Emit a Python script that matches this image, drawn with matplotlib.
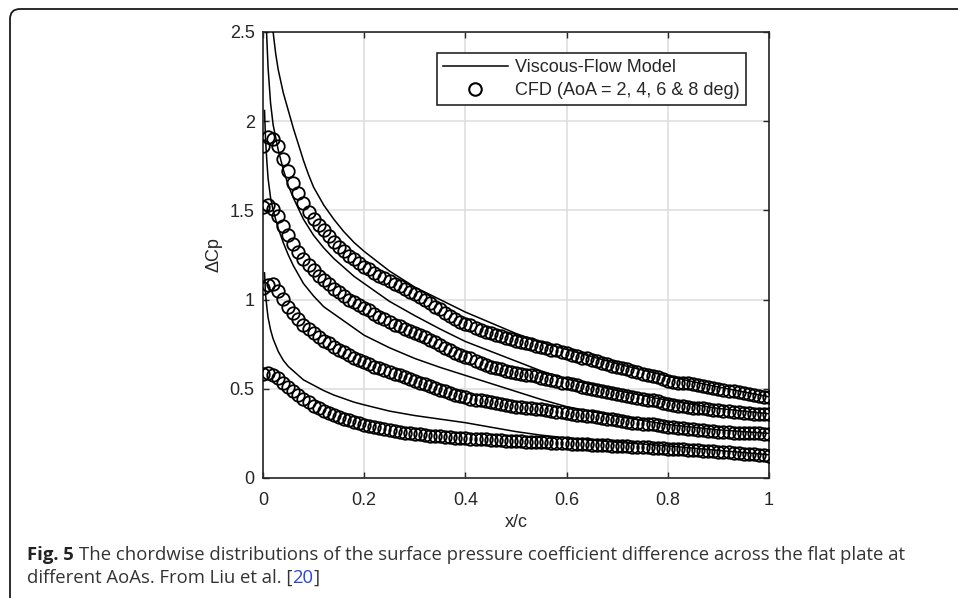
import numpy as np
import matplotlib
matplotlib.use("Agg")
import matplotlib.pyplot as plt
from matplotlib.patches import FancyBboxPatch
from matplotlib.transforms import IdentityTransform
from matplotlib.lines import Line2D

# CFD samples (x/c = 0, 0.01, ..., 1)
cfd_x = np.linspace(0, 1, 101)

cfd_aoa8 = [1.86, 1.91, 1.90, 1.86, 1.79, 1.72, 1.655, 1.595, 1.54, 1.49,
            1.45, 1.42, 1.39, 1.355, 1.325, 1.295, 1.27, 1.245, 1.225, 1.205,
            1.185, 1.17, 1.15, 1.135, 1.12, 1.105, 1.09, 1.075, 1.06, 1.045,
            1.03, 1.015, 0.995, 0.98, 0.96, 0.945, 0.925, 0.91, 0.89, 0.875,
            0.865, 0.855, 0.84, 0.83, 0.82, 0.81, 0.80, 0.795, 0.785, 0.78,
            0.77, 0.765, 0.755, 0.75, 0.74, 0.735, 0.73, 0.72, 0.715, 0.705,
            0.70, 0.69, 0.685, 0.675, 0.67, 0.66, 0.655, 0.645, 0.64, 0.63,
            0.625, 0.615, 0.61, 0.60, 0.595, 0.585, 0.58, 0.57, 0.565, 0.555,
            0.545, 0.54, 0.535, 0.535, 0.53, 0.525, 0.52, 0.515, 0.51, 0.505,
            0.50, 0.495, 0.49, 0.485, 0.48, 0.475, 0.47, 0.465, 0.46, 0.455,
            0.455]

cfd_aoa6 = [1.52, 1.53, 1.51, 1.47, 1.41, 1.36, 1.31, 1.265, 1.23, 1.195,
            1.165, 1.135, 1.11, 1.085, 1.06, 1.04, 1.02, 1.00, 0.985, 0.97,
            0.955, 0.94, 0.92, 0.905, 0.89, 0.875, 0.86, 0.85, 0.835, 0.825,
            0.81, 0.80, 0.79, 0.775, 0.76, 0.745, 0.73, 0.715, 0.70, 0.69,
            0.68, 0.67, 0.655, 0.645, 0.635, 0.625, 0.615, 0.61, 0.60, 0.595,
            0.59, 0.585, 0.58, 0.575, 0.57, 0.56, 0.555, 0.55, 0.545, 0.535,
            0.53, 0.525, 0.52, 0.51, 0.505, 0.50, 0.495, 0.49, 0.48, 0.475,
            0.47, 0.465, 0.46, 0.455, 0.45, 0.445, 0.44, 0.435, 0.43, 0.42,
            0.415, 0.41, 0.405, 0.405, 0.40, 0.395, 0.39, 0.39, 0.385, 0.38,
            0.38, 0.375, 0.375, 0.37, 0.37, 0.365, 0.365, 0.36, 0.36, 0.36,
            0.358]

cfd_aoa4 = [1.065, 1.08, 1.085, 1.05, 1.005, 0.96, 0.925, 0.89, 0.86, 0.835,
            0.81, 0.79, 0.77, 0.755, 0.735, 0.72, 0.705, 0.69, 0.675, 0.66,
            0.65, 0.64, 0.625, 0.615, 0.605, 0.595, 0.585, 0.575, 0.565, 0.555,
            0.545, 0.535, 0.525, 0.515, 0.505, 0.495, 0.485, 0.475, 0.465, 0.46,
            0.455, 0.445, 0.44, 0.435, 0.43, 0.425, 0.42, 0.415, 0.41, 0.405,
            0.40, 0.40, 0.395, 0.39, 0.385, 0.385, 0.38, 0.375, 0.37, 0.37,
            0.365, 0.36, 0.355, 0.355, 0.35, 0.345, 0.34, 0.335, 0.33, 0.33,
            0.325, 0.32, 0.315, 0.31, 0.31, 0.305, 0.30, 0.30, 0.295, 0.29,
            0.285, 0.285, 0.28, 0.28, 0.275, 0.275, 0.27, 0.27, 0.265, 0.265,
            0.26, 0.26, 0.26, 0.255, 0.255, 0.255, 0.25, 0.25, 0.25, 0.248,
            0.246]

cfd_aoa2 = [0.585, 0.59, 0.58, 0.56, 0.535, 0.51, 0.485, 0.465, 0.445, 0.425,
            0.405, 0.39, 0.377, 0.365, 0.353, 0.342, 0.332, 0.323, 0.314, 0.306,
            0.298, 0.292, 0.285, 0.279, 0.274, 0.269, 0.264, 0.259, 0.255, 0.251,
            0.247, 0.244, 0.241, 0.238, 0.235, 0.233, 0.231, 0.229, 0.227, 0.225,
            0.223, 0.221, 0.219, 0.218, 0.216, 0.214, 0.213, 0.211, 0.21, 0.208,
            0.207, 0.205, 0.204, 0.203, 0.201, 0.20, 0.199, 0.198, 0.197, 0.196,
            0.195, 0.193, 0.192, 0.19, 0.189, 0.187, 0.186, 0.184, 0.183, 0.181,
            0.18, 0.178, 0.177, 0.175, 0.174, 0.172, 0.171, 0.169, 0.168, 0.166,
            0.165, 0.163, 0.162, 0.16, 0.158, 0.157, 0.155, 0.153, 0.151, 0.149,
            0.147, 0.145, 0.143, 0.141, 0.139, 0.137, 0.135, 0.133, 0.13, 0.128,
            0.125]

# viscous-flow model curves
model8_x = [0.018, 0.02, 0.025, 0.03, 0.04, 0.05, 0.06, 0.07, 0.08, 0.09, 0.10,
            0.12, 0.14, 0.16, 0.18, 0.20, 0.25, 0.30, 0.35, 0.40, 0.45, 0.50,
            0.55, 0.60, 0.70, 0.80, 0.90, 1.00]
model8_y = [2.62, 2.50, 2.38, 2.29, 2.16, 2.06, 1.96, 1.87, 1.78, 1.70, 1.63,
            1.53, 1.45, 1.38, 1.32, 1.27, 1.16, 1.07, 1.00, 0.93, 0.87, 0.81,
            0.76, 0.72, 0.64, 0.57, 0.51, 0.455]

model6_x = [0.005, 0.007, 0.01, 0.015, 0.02, 0.03, 0.04, 0.05, 0.06, 0.08, 0.10,
            0.12, 0.14, 0.16, 0.18, 0.20, 0.25, 0.30, 0.35, 0.40, 0.45, 0.50,
            0.55, 0.60, 0.70, 0.80, 0.90, 1.00]
model6_y = [2.75, 2.50, 2.30, 2.10, 1.98, 1.84, 1.73, 1.64, 1.57, 1.45, 1.36,
            1.29, 1.23, 1.18, 1.13, 1.09, 0.99, 0.91, 0.835, 0.765, 0.71, 0.655,
            0.60, 0.555, 0.49, 0.435, 0.39, 0.36]

model4_x = [0.003, 0.005, 0.0075, 0.01, 0.015, 0.02, 0.03, 0.04, 0.05, 0.06, 0.08,
            0.10, 0.12, 0.14, 0.16, 0.18, 0.20, 0.25, 0.30, 0.35, 0.40, 0.45,
            0.50, 0.55, 0.60, 0.70, 0.80, 0.90, 1.00]
model4_y = [2.06, 1.90, 1.78, 1.68, 1.57, 1.50, 1.40, 1.32, 1.25, 1.19, 1.09,
            1.02, 0.96, 0.92, 0.88, 0.84, 0.80, 0.73, 0.67, 0.62, 0.575, 0.53,
            0.485, 0.44, 0.40, 0.345, 0.30, 0.27, 0.25]

model2_x = model4_x
model2_y = [1.15, 1.03, 0.96, 0.90, 0.83, 0.78, 0.71, 0.66, 0.625, 0.60, 0.55,
            0.52, 0.49, 0.465, 0.445, 0.425, 0.41, 0.375, 0.35, 0.33, 0.31, 0.285,
            0.26, 0.24, 0.225, 0.20, 0.18, 0.155, 0.13]

x_ticks = [0, 0.2, 0.4, 0.6, 0.8, 1]
x_ticklabels = ["0", "0.2", "0.4", "0.6", "0.8", "1"]
y_ticks = [0, 0.5, 1, 1.5, 2, 2.5]
y_ticklabels = ["0", "0.5", "1", "1.5", "2", "2.5"]

legend_labels = ["Viscous-Flow Model", "CFD (AoA = 2, 4, 6 & 8 deg)"]

W, H = 958, 598
dark = "#262626"
plt.rcParams["font.family"] = ["Liberation Sans", "DejaVu Sans"]

fig = plt.figure(figsize=(W / 100, H / 100), dpi=100)
ax = fig.add_axes([263 / W, 1 - 478 / H, 506 / W, 446 / H])

for mx, my in [(model8_x, model8_y), (model6_x, model6_y),
               (model4_x, model4_y), (model2_x, model2_y)]:
    ax.plot(mx, my, color="k", lw=1.1, zorder=3)

for s in [cfd_aoa8, cfd_aoa6, cfd_aoa4, cfd_aoa2]:
    ax.plot(cfd_x, s, "o", mfc="none", mec="k", ms=9.0, mew=1.3, zorder=4)

ax.set_xlim(0, 1)
ax.set_ylim(0, 2.5)
ax.set_xticks(x_ticks)
ax.set_xticklabels(x_ticklabels)
ax.set_yticks(y_ticks)
ax.set_yticklabels(y_ticklabels)
ax.tick_params(direction="in", top=True, right=True, length=4.5, width=1.0,
               labelsize=13, labelcolor=dark, color=dark, pad=6)
ax.tick_params(axis="x", pad=10)
ax.grid(True, color="#dcdcdc", lw=1.1, zorder=0)
ax.set_axisbelow(True)
for sp in ax.spines.values():
    sp.set_linewidth(1.2)
    sp.set_color(dark)

ax.set_xlabel("x/c", fontsize=13, color=dark, labelpad=4)
ax.set_ylabel("ΔCp", fontsize=13, color=dark, labelpad=5)

handles = [Line2D([], [], color="k", lw=1.1),
           Line2D([], [], ls="none", marker="o", mfc="none", mec="k", ms=9.0, mew=1.5)]
leg = ax.legend(handles, legend_labels, loc="upper right",
                bbox_to_anchor=((746 - 263) / 506, (478 - 53) / 446),
                borderaxespad=0, fancybox=False, framealpha=1, fontsize=13,
                handlelength=3.6, handletextpad=0.4, labelspacing=0.32,
                borderpad=0.35)
leg.get_frame().set_edgecolor(dark)
leg.get_frame().set_linewidth(1.2)
for t in leg.get_texts():
    t.set_color(dark)

# outer rounded frame (open to the right and bottom)
frame = FancyBboxPatch((10, -60), 1100, H - 9 + 60,
                       boxstyle="round,pad=0,rounding_size=10",
                       transform=IdentityTransform(), fill=False,
                       edgecolor="#1a1a1a", lw=1.3)
fig.add_artist(frame)

# caption with mixed styling
cap_font = ["Open Sans", "DejaVu Sans"]
cap_size = 13.3
r = fig.canvas.get_renderer()
space = 0.28 * cap_size * 100 / 72

def put(x, y, s, **kw):
    t = fig.text(x / W, y / H, s, fontsize=cap_size, family=cap_font,
                 va="baseline", ha="left", **kw)
    return t.get_window_extent(r).x1

x1 = put(27, H - 560, "Fig. 5", fontweight="bold", color="#222222")
put(x1 + space, H - 560,
    "The chordwise distributions of the surface pressure coefficient difference across the flat plate at",
    color="#333333")
x2 = put(27, H - 583, "different AoAs. From Liu et al. [", color="#333333")
x3 = put(x2, H - 583, "20", color="#2a45d8")
put(x3, H - 583, "]", color="#333333")

fig.savefig("out.png", dpi=100)
